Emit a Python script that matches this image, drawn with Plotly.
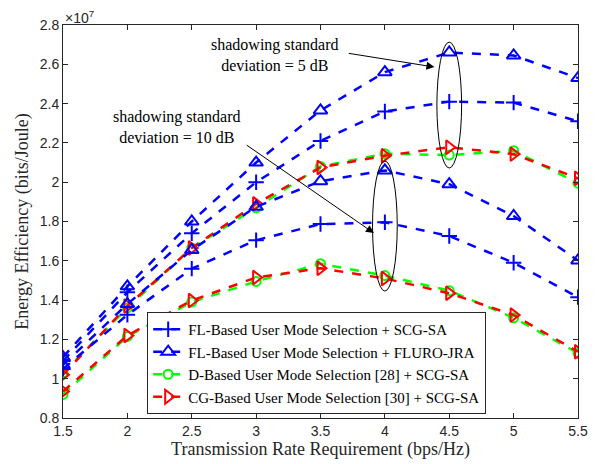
import plotly.graph_objects as go

rate = [1.5, 2, 2.5, 3, 3.5, 4, 4.5, 5, 5.5]

# Energy efficiency, in units of 1e7 bits/Joule
# shadowing std = 5 dB
fl_scg_5 = [1.09, 1.44, 1.74, 2.00, 2.21, 2.36, 2.41, 2.405, 2.31]
fl_fluro_5 = [1.11, 1.47, 1.80, 2.10, 2.365, 2.56, 2.66, 2.645, 2.53]
d_scg_5 = [1.03, 1.36, 1.665, 1.87, 2.08, 2.145, 2.138, 2.16, 1.995]
cg_scg_5 = [1.02, 1.37, 1.665, 1.89, 2.075, 2.135, 2.178, 2.143, 2.02]
# shadowing std = 10 dB
fl_scg_10 = [1.05, 1.325, 1.56, 1.705, 1.787, 1.796, 1.726, 1.59, 1.415]
fl_fluro_10 = [1.07, 1.38, 1.655, 1.875, 2.005, 2.06, 1.99, 1.828, 1.602]
d_scg_10 = [0.92, 1.215, 1.39, 1.495, 1.585, 1.525, 1.448, 1.31, 1.13]
cg_scg_10 = [0.935, 1.22, 1.398, 1.515, 1.562, 1.51, 1.435, 1.324, 1.137]

names = [
    "FL-Based User Mode Selection + SCG-SA",
    "FL-Based User Mode Selection + FLURO-JRA",
    "D-Based User Mode Selection [28] + SCG-SA",
    "CG-Based User Mode Selection [30] + SCG-SA",
]
series5 = [fl_scg_5, fl_fluro_5, d_scg_5, cg_scg_5]
series10 = [fl_scg_10, fl_fluro_10, d_scg_10, cg_scg_10]
colors = ["#0000ff", "#0000ff", "#00ff00", "#ff0000"]
symbols = ["cross-thin-open", "triangle-up-open", "circle-open", "triangle-right-open"]
sizes = [11, 12, 9, 12]

xticks = [1.5, 2, 2.5, 3, 3.5, 4, 4.5, 5, 5.5]
xticklabels = ["1.5", "2", "2.5", "3", "3.5", "4", "4.5", "5", "5.5"]
yticks = [0.8, 1.0, 1.2, 1.4, 1.6, 1.8, 2.0, 2.2, 2.4, 2.6, 2.8]
yticklabels = ["0.8", "1", "1.2", "1.4", "1.6", "1.8", "2", "2.2", "2.4", "2.6", "2.8"]

fig = go.Figure()
for grp, show in ((series5, True), (series10, False)):
    for i in range(4):
        fig.add_trace(go.Scatter(
            x=rate, y=grp[i], mode="lines+markers", name=names[i],
            showlegend=show, legendgroup=str(i),
            line=dict(color=colors[i], width=2.5, dash="dash"),
            marker=dict(symbol=symbols[i], size=sizes[i], color=colors[i],
                        line=dict(color=colors[i], width=2)),
        ))

serif = "Times New Roman, Liberation Serif, DejaVu Serif, serif"
sans = "Arial, Liberation Sans, sans-serif"

# ellipses
fig.add_shape(type="circle", xref="x", yref="y", x0=4.404, x1=4.596, y0=2.072, y1=2.713,
              line=dict(color="black", width=1))
fig.add_shape(type="circle", xref="x", yref="y", x0=3.904, x1=4.096, y0=1.446, y1=2.108,
              line=dict(color="black", width=1))

# arrows
fig.add_annotation(x=4.385, y=2.586, ax=3.708, ay=2.657, xref="x", yref="y",
                   axref="x", ayref="y", text="", showarrow=True, arrowhead=2,
                   arrowsize=1.6, arrowwidth=1, arrowcolor="black")
fig.add_annotation(x=3.915, y=1.741, ax=2.915, ay=2.194, xref="x", yref="y",
                   axref="x", ayref="y", text="", showarrow=True, arrowhead=2,
                   arrowsize=1.6, arrowwidth=1, arrowcolor="black")

# texts
fig.add_annotation(x=(277 - 63) / 130 + 1.5, y=0.8 + (418 - 55) / 196.5, xref="x", yref="y",
                   text="shadowing standard<br>deviation = 5 dB", showarrow=False,
                   font=dict(family=serif, size=16, color="black"), align="center")
fig.add_annotation(x=(178 - 63) / 130 + 1.5, y=0.8 + (418 - 127) / 196.5, xref="x", yref="y",
                   text="shadowing standard<br>deviation = 10 dB", showarrow=False,
                   font=dict(family=serif, size=16, color="black"), align="center")

# exponent label
fig.add_annotation(x=0, y=1, xref="paper", yref="paper", xanchor="left", yanchor="bottom",
                   text="×10<sup>7</sup>", showarrow=False,
                   font=dict(family=sans, size=14, color="#262626"), yshift=-3)

axis_common = dict(showline=True, linecolor="#262626", linewidth=1, mirror="ticks",
                   ticks="inside", ticklen=5, tickcolor="#262626", showgrid=False,
                   zeroline=False, tickfont=dict(family=sans, size=14, color="#262626"))

fig.update_layout(
    width=600, height=464,
    margin=dict(l=63, r=17, t=25, b=46),
    plot_bgcolor="white", paper_bgcolor="white",
    xaxis=dict(range=[1.5, 5.5], tickvals=xticks, ticktext=xticklabels,
               title=dict(text="Transmission Rate Requirement (bps/Hz)", standoff=1,
                          font=dict(family=serif, size=18, color="#262626")),
               **axis_common),
    yaxis=dict(range=[0.8, 2.8], tickvals=yticks, ticktext=yticklabels,
               title=dict(text="Energy Efficiency (bits/Joule)", standoff=6,
                          font=dict(family=serif, size=18, color="#262626")),
               **axis_common),
    legend=dict(x=(148 - 63) / 520, y=(418 - 414) / 393, xanchor="left", yanchor="bottom",
                bgcolor="white", bordercolor="#262626", borderwidth=1,
                font=dict(family=serif, size=15, color="black"),
                tracegroupgap=0, itemwidth=30),
    showlegend=True,
)

fig.write_html("out.html")
